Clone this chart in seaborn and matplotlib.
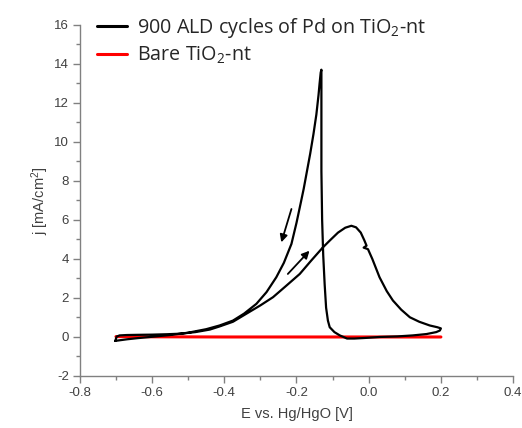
import numpy as np
import matplotlib
matplotlib.use("Agg")
import matplotlib.pyplot as plt
import pandas as pd
import seaborn as sns

# ---------------------------------------------------------------------------
# DATA
# ---------------------------------------------------------------------------
# 900 ALD cycles of Pd on TiO2-nt, full CV loop in scan order
E_pd = [
    -0.702, -0.698, -0.690, -0.670, -0.640, -0.600, -0.560, -0.520, -0.480,
    -0.440, -0.413, -0.376, -0.339, -0.300, -0.265, -0.230, -0.191, -0.160,
    -0.127, -0.108, -0.085, -0.065, -0.048, -0.035, -0.022, -0.012, -0.006,
    -0.014, -0.002, 0.010, 0.030, 0.050, 0.067, 0.090, 0.114, 0.140, 0.169,
    0.190, 0.200,
    0.197, 0.187, 0.160, 0.122, 0.080, 0.030, -0.010, -0.040, -0.060, -0.080,
    -0.095, -0.108, -0.113, -0.118, -0.122, -0.126, -0.129, -0.131, -0.131,
    -0.131,
    -0.133, -0.136, -0.139, -0.145, -0.153, -0.162, -0.171, -0.180, -0.187,
    -0.200, -0.214, -0.235, -0.256, -0.283, -0.311, -0.345, -0.376, -0.413,
    -0.450, -0.500, -0.550, -0.600, -0.640, -0.670, -0.702,
]
j_pd = [
    -0.20, 0.02, 0.08, 0.10, 0.11, 0.12, 0.14, 0.17, 0.25,
    0.38, 0.54, 0.78, 1.19, 1.62, 2.04, 2.60, 3.23, 3.90,
    4.59, 4.94, 5.35, 5.60, 5.70, 5.62, 5.35, 4.95, 4.68,
    4.58, 4.50, 4.00, 3.06, 2.35, 1.87, 1.40, 1.01, 0.78, 0.59,
    0.50, 0.44,
    0.33, 0.25, 0.15, 0.08, 0.03, 0.00, -0.05, -0.08, -0.08, 0.08,
    0.25, 0.50, 0.84, 1.50, 2.70, 4.20, 6.00, 8.50, 11.00,
    13.70,
    13.55, 13.00, 12.40, 11.40, 10.40, 9.40, 8.50, 7.60, 6.98,
    5.85, 4.77, 3.80, 3.06, 2.30, 1.70, 1.20, 0.84, 0.59,
    0.40, 0.22, 0.10, 0.01, -0.06, -0.12, -0.20,
]

# Bare TiO2-nt
E_bare = [-0.70, -0.60, -0.40, -0.20, 0.00, 0.20]
j_bare = [0.02, 0.01, 0.00, 0.00, 0.00, 0.00]

labels = ["900 ALD cycles of Pd on TiO$_2$-nt", "Bare TiO$_2$-nt"]

x_ticks = [-0.8, -0.6, -0.4, -0.2, 0.0, 0.2, 0.4]
y_ticks = [-2, 0, 2, 4, 6, 8, 10, 12, 14, 16]

# scan direction arrows: (start E, start j, end E, end j)
arrow_down = (-0.214, 6.56, -0.242, 4.85)
arrow_up = (-0.224, 3.23, -0.164, 4.42)


def main():
    sns.set_style("ticks")
    plt.rcParams["font.family"] = ["Liberation Sans", "DejaVu Sans"]
    plt.rcParams["mathtext.fontset"] = "custom"
    plt.rcParams["mathtext.rm"] = "Open Sans"
    plt.rcParams["mathtext.default"] = "regular"
    plt.rcParams["axes.unicode_minus"] = False

    fig, ax = plt.subplots(figsize=(5.22, 4.28), dpi=100)
    fig.subplots_adjust(left=0.153, right=0.983, top=0.942, bottom=0.1215)

    pd_df = pd.DataFrame({"E": E_pd, "j": j_pd})
    bare_df = pd.DataFrame({"E": E_bare, "j": j_bare})

    sns.lineplot(data=bare_df, x="E", y="j", sort=False, estimator=None,
                 color="#ff0000", lw=2.2, ax=ax, label=labels[1], zorder=2)
    sns.lineplot(data=pd_df, x="E", y="j", sort=False, estimator=None,
                 color="black", lw=1.6, ax=ax, label=labels[0], zorder=3)

    for a in (arrow_down, arrow_up):
        ax.annotate("", xy=(a[2], a[3]), xytext=(a[0], a[1]),
                    arrowprops=dict(arrowstyle="-|>", color="black", lw=1.3,
                                    mutation_scale=11, shrinkA=0, shrinkB=0))

    ax.set_xlim(-0.8, 0.4)
    ax.set_ylim(-2, 16)
    ax.set_xticks(x_ticks)
    ax.set_yticks(y_ticks)
    ax.set_xticks(np.arange(-0.8, 0.41, 0.1), minor=True)
    ax.set_yticks(np.arange(-2, 16.1, 1), minor=True)
    ax.set_xticklabels(["%.1f" % v for v in x_ticks])

    gray = "#808080"
    for side in ["top", "right"]:
        ax.spines[side].set_visible(False)
    for side in ["left", "bottom"]:
        ax.spines[side].set_color(gray)
        ax.spines[side].set_linewidth(1.0)
    ax.tick_params(which="major", length=5, width=1.0, color=gray,
                   labelsize=9.5, labelcolor="#404040", pad=3)
    ax.tick_params(which="minor", length=3, width=1.0, color=gray)

    ax.set_xlabel("E vs. Hg/HgO [V]", fontsize=10.5, color="#404040", labelpad=6)
    ax.set_ylabel("j [mA/cm$^2$]", fontsize=10.5, color="#404040", labelpad=2)

    handles, labs = ax.get_legend_handles_labels()
    order = [labs.index(labels[0]), labs.index(labels[1])]
    leg = ax.legend([handles[i] for i in order], [labs[i] for i in order],
                    loc="upper left", bbox_to_anchor=(0.163, 0.99),
                    bbox_transform=fig.transFigure, frameon=False,
                    prop={"family": "Open Sans", "size": 14.2},
                    handlelength=1.55, handletextpad=0.5, labelspacing=0.22,
                    borderaxespad=0.2)
    for h in leg.legend_handles:
        h.set_linewidth(2.2)

    plt.savefig("out.png", dpi=100)
    plt.close()


if __name__ == "__main__":
    main()
